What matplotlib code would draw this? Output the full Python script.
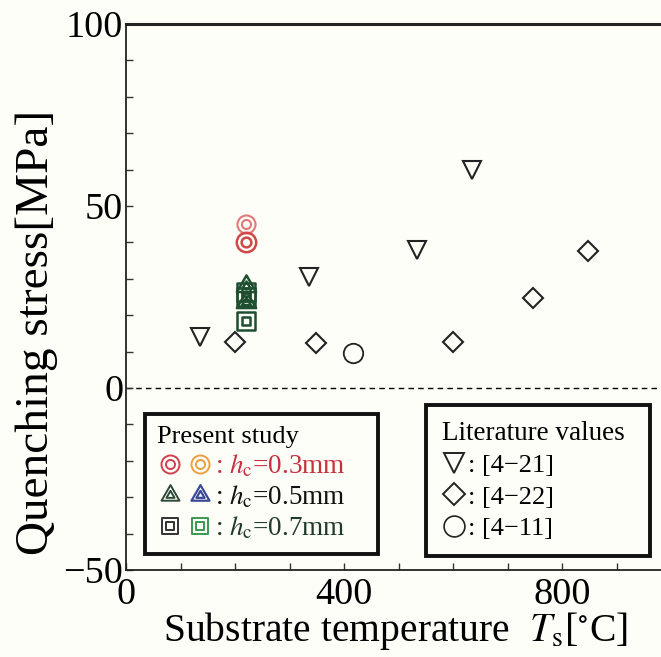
import matplotlib
matplotlib.use("Agg")
import matplotlib.pyplot as plt
from matplotlib.path import Path
from matplotlib.lines import Line2D
from matplotlib.legend_handler import HandlerBase
import numpy as np

plt.rcParams['font.family'] = ['Liberation Serif', 'DejaVu Serif']
plt.rcParams['mathtext.fontset'] = 'stix'

# ---- data ----
hc03_T = [220, 220]
hc03_S = [45, 40]
hc05_T = [220, 220]
hc05_S = [28, 23.5]
hc07_T = [220, 220, 220]
hc07_S = [26.5, 25, 18.5]

lit21_T = [136, 335, 533, 634]
lit21_S = [14, 30.5, 38, 60]
lit22_T = [200, 348, 599, 747, 847]
lit22_S = [12.5, 12.3, 12.7, 24.6, 37.5]
lit11_T = [417]
lit11_S = [9.5]

xticks_major = [0, 400, 800]
yticks_major = [-50, 0, 50, 100]
yticklabels = ['\u221250', '0', '50', '100']

# ---- marker shapes ----
def double(verts_outer, scale=0.5):
    outer = Path(verts_outer + [verts_outer[0]], closed=True)
    inner = Path([(x * scale, y * scale) for x, y in verts_outer] +
                 [(verts_outer[0][0] * scale, verts_outer[0][1] * scale)], closed=True)
    return Path.make_compound_path(outer, inner)

dcircle = Path.make_compound_path(Path.circle((0, 0), 1.0), Path.circle((0, 0), 0.5))
tri = [(0, 1), (-0.866, -0.5), (0.866, -0.5)]
dtri = double(tri, 0.45)
sq = [(-1, -1), (1, -1), (1, 1), (-1, 1)]
dsq = double(sq, 0.45)


class TwoMarkers(HandlerBase):
    def __init__(self, f1=0.31, f2=0.82):
        super().__init__()
        self.f1, self.f2 = f1, f2

    def create_artists(self, legend, orig_handle, xdescent, ydescent,
                       width, height, fontsize, trans):
        arts = []
        y = height / 2 - ydescent
        for h, f in zip(orig_handle, (self.f1, self.f2)):
            a = Line2D([f * width - xdescent], [y])
            a.update_from(h)
            a.set_linestyle('none')
            a.set_transform(trans)
            arts.append(a)
        return arts


bg = '#fefef8'
fig = plt.figure(figsize=(6.61, 6.57), dpi=100, facecolor=bg)
ax = fig.add_axes([126 / 661, 1 - 570 / 657, 1 - 126 / 661, (570 - 24) / 657])
ax.set_facecolor(bg)

ax.set_xlim(0, 981)
ax.set_ylim(-50, 100)

# zero line
ax.axhline(0, color='black', lw=1.0, ls=(0, (4, 3)), zorder=1)

# literature
ax.plot(lit21_T, lit21_S, ls='none', marker='v', ms=13, mfc='none', mec='#222222', mew=1.5)
ax.plot(lit22_T, lit22_S, ls='none', marker='D', ms=10, mfc='none', mec='#222222', mew=1.5)
ax.plot(lit11_T, lit11_S, ls='none', marker='o', ms=14, mfc='none', mec='#222222', mew=1.3)

# present study
ax.plot(hc03_T[:1], hc03_S[:1], ls='none', marker=dcircle, ms=13, mfc='none', mec='#e07a7a', mew=1.5)
ax.plot(hc03_T[1:], hc03_S[1:], ls='none', marker=dcircle, ms=14, mfc='none', mec='#d04848', mew=1.8)
ax.plot(hc05_T, hc05_S, ls='none', marker=dtri, ms=16, mfc='none', mec='#1f4f30', mew=1.8)
ax.plot(hc07_T, hc07_S, ls='none', marker=dsq, ms=13, mfc='none', mec='#1f4f30', mew=1.8)

# axes styling
for s in ['left', 'bottom', 'top']:
    ax.spines[s].set_color('#222222')
ax.spines['left'].set_linewidth(1.3)
ax.spines['bottom'].set_linewidth(1.3)
ax.spines['top'].set_linewidth(2.2)
ax.spines['right'].set_visible(False)

ax.set_xticks(xticks_major)
ax.set_xticks(np.arange(100, 1000, 100), minor=True)
ax.set_yticks(yticks_major)
ax.set_yticks(np.arange(-40, 100, 10), minor=True)
ax.set_yticklabels(yticklabels)
ax.tick_params(which='both', direction='in', length=5, width=1, color='#333333')
ax.tick_params(axis='both', which='major', labelsize=27.5, pad=2)
ax.tick_params(axis='x', which='major', pad=5.5)

ax.set_xlabel(r'Substrate temperature  $T_\mathrm{s}$[$^{\circ}$C]', fontsize=28.5)
ax.set_ylabel('Quenching stress[MPa]', fontsize=34)
ax.xaxis.set_label_coords((396 - 126) / 535, -0.074)
ax.yaxis.set_label_coords(-0.128, (570 - 332) / 546)

# legends
h_r = Line2D([], [], ls='none', marker=dcircle, ms=13, mfc='none', mec='#d04050', mew=1.4)
h_o = Line2D([], [], ls='none', marker=dcircle, ms=13, mfc='none', mec='#e8a040', mew=1.4)
h_g = Line2D([], [], ls='none', marker=dtri, ms=15, mfc='none', mec='#2c4a36', mew=1.4)
h_b = Line2D([], [], ls='none', marker=dtri, ms=15, mfc='none', mec='#3a4a98', mew=1.6)
h_k = Line2D([], [], ls='none', marker=dsq, ms=12, mfc='none', mec='#333333', mew=1.4)
h_gr = Line2D([], [], ls='none', marker=dsq, ms=12, mfc='none', mec='#3a9a50', mew=1.4)

leg1 = ax.legend([(h_r, h_o), (h_g, h_b), (h_k, h_gr)],
                 [r': $h_\mathrm{c}$=0.3mm', r': $h_\mathrm{c}$=0.5mm', r': $h_\mathrm{c}$=0.7mm'],
                 handler_map={tuple: TwoMarkers(0.24, 0.79)},
                 title='Present study', title_fontsize=19, fontsize=19.5,
                 alignment='left', loc='upper left', mode='expand',
                 bbox_to_anchor=(145 / 661, 1 - 553 / 657, 233 / 661, 139 / 657),
                 bbox_transform=fig.transFigure,
                 frameon=True, fancybox=False, edgecolor='#111111', facecolor=bg, framealpha=1,
                 handlelength=2.0, handletextpad=0.15, labelspacing=0.17, borderpad=0.45,
                 borderaxespad=0)
leg1.get_frame().set_linewidth(2.8)
cols = ['#c83040', '#111111', '#1f3a26']
for t, c in zip(leg1.get_texts(), cols):
    t.set_color(c)
ax.add_artist(leg1)

l1 = Line2D([], [], ls='none', marker='v', ms=15, mfc='none', mec='#222222', mew=1.4)
l2 = Line2D([], [], ls='none', marker='D', ms=11, mfc='none', mec='#222222', mew=1.4)
l3 = Line2D([], [], ls='none', marker='o', ms=15, mfc='none', mec='#222222', mew=1.2)
leg2 = ax.legend([l1, l2, l3], [': [4\u221221]', ': [4\u221222]', ': [4\u221211]'],
                 title='Literature values', title_fontsize=19.5, fontsize=19,
                 alignment='left', loc='upper left', mode='expand',
                 bbox_to_anchor=(426 / 661, 1 - 553 / 657, 224 / 661, 148 / 657),
                 bbox_transform=fig.transFigure,
                 frameon=True, fancybox=False, edgecolor='#111111', facecolor=bg, framealpha=1,
                 handlelength=0.95, handletextpad=0.05, labelspacing=0.3, borderpad=0.6,
                 borderaxespad=0)
leg2.get_frame().set_linewidth(2.8)

fig.savefig('out.png', dpi=100, facecolor=bg)
